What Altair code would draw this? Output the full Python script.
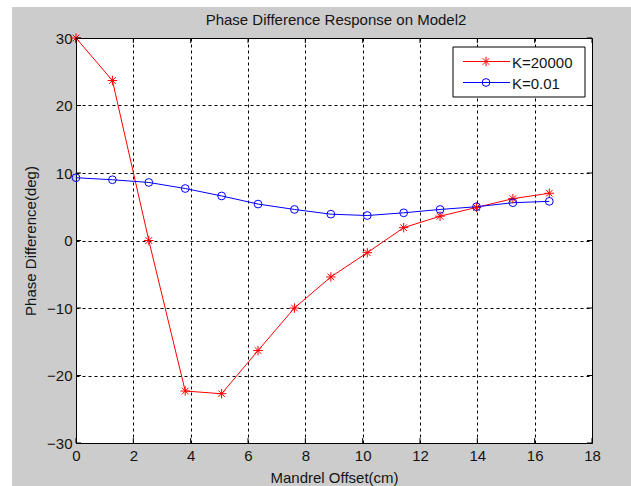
import altair as alt
import pandas as pd

# ---- data ----
x_offset = [0, 1.27, 2.54, 3.81, 5.08, 6.35, 7.62, 8.89, 10.16, 11.43, 12.7, 13.97, 15.24, 16.51]
k20000 = [30, 23.7, 0.0, -22.3, -22.7, -16.3, -10.0, -5.4, -1.8, 1.9, 3.6, 4.9, 6.2, 7.0]
k001 = [9.3, 9.0, 8.6, 7.7, 6.6, 5.4, 4.6, 3.9, 3.7, 4.1, 4.6, 5.0, 5.6, 5.8]
series_names = ["K=20000", "K=0.01"]
series_colors = ["#ff0000", "#0000ff"]
x_ticks = [0, 2, 4, 6, 8, 10, 12, 14, 16, 18]
y_ticks = [-30, -20, -10, 0, 10, 20, 30]
chart_title = "Phase Difference Response on Model2"

FONT = "Liberation Sans"
FS = 15
TXT = "#141414"
W, H = 516, 405
ASTERISK = "M-1,0L1,0M0,-1L0,1M-0.7,-0.7L0.7,0.7M-0.7,0.7L0.7,-0.7"

df = pd.DataFrame({
    "x": x_offset * 2,
    "y": k20000 + k001,
    "series": [series_names[0]] * len(x_offset) + [series_names[1]] * len(x_offset),
})
xt = pd.DataFrame({"t": x_ticks})
yt = pd.DataFrame({"t": y_ticks})

xs = alt.Scale(domain=[0, 18], nice=False, zero=False)
ys = alt.Scale(domain=[-30, 30], nice=False, zero=False)

xaxis = alt.Axis(values=x_ticks, title="Mandrel Offset(cm)", grid=True, gridColor="black",
                 gridDash=[3, 3], gridOpacity=1, gridWidth=1, ticks=False, domain=False,
                 labelFont=FONT, labelFontSize=FS, labelColor=TXT, labelPadding=5,
                 titleFont=FONT, titleFontSize=FS, titleFontWeight="normal", titleColor=TXT,
                 titlePadding=7, labelFlush=False)
yaxis = alt.Axis(values=y_ticks, title="Phase Difference(deg)", grid=True, gridColor="black",
                 gridDash=[3, 3], gridOpacity=1, gridWidth=1, ticks=False, domain=False,
                 labelFont=FONT, labelFontSize=FS, labelColor=TXT, labelPadding=4,
                 titleFont=FONT, titleFontSize=FS, titleFontWeight="normal", titleColor=TXT,
                 titlePadding=8, labelFlush=False)

color = alt.Color("series:N", scale=alt.Scale(domain=series_names, range=series_colors), legend=None)

lines = alt.Chart(df).mark_line(strokeWidth=1, clip=False).encode(
    x=alt.X("x:Q", scale=xs, axis=xaxis),
    y=alt.Y("y:Q", scale=ys, axis=yaxis),
    color=color,
)
pts_red = alt.Chart(df).transform_filter(alt.datum.series == series_names[0]).mark_point(
    shape=ASTERISK, size=90, filled=False, strokeWidth=1, color=series_colors[0], opacity=1
).encode(x=alt.X("x:Q", scale=xs), y=alt.Y("y:Q", scale=ys))
pts_blue = alt.Chart(df).transform_filter(alt.datum.series == series_names[1]).mark_point(
    shape="circle", size=60, filled=False, strokeWidth=1, color=series_colors[1], opacity=1
).encode(x=alt.X("x:Q", scale=xs), y=alt.Y("y:Q", scale=ys))

# inward tick marks on all four sides
tk_xb = alt.Chart(xt).mark_rule(color="black", strokeWidth=1).encode(
    x=alt.X("t:Q", scale=xs), y=alt.value(H), y2=alt.value(H - 5))
tk_xt = alt.Chart(xt).mark_rule(color="black", strokeWidth=1).encode(
    x=alt.X("t:Q", scale=xs), y=alt.value(0), y2=alt.value(5))
tk_yl = alt.Chart(yt).mark_rule(color="black", strokeWidth=1).encode(
    y=alt.Y("t:Q", scale=ys), x=alt.value(0), x2=alt.value(5))
tk_yr = alt.Chart(yt).mark_rule(color="black", strokeWidth=1).encode(
    y=alt.Y("t:Q", scale=ys), x=alt.value(W), x2=alt.value(W - 5))

# white strips of the screenshot at left and top edges
base = alt.Chart(pd.DataFrame({"a": [0]}))
strip_l = base.mark_rect(color="white").encode(
    x=alt.value(-76), x2=alt.value(-64), y=alt.value(-38), y2=alt.value(448))
strip_t = base.mark_rect(color="white").encode(
    x=alt.value(-76), x2=alt.value(555), y=alt.value(-38), y2=alt.value(-31))

# title
title_mark = base.mark_text(text=chart_title, align="center", baseline="alphabetic", font=FONT,
                            fontSize=FS, color=TXT).encode(x=alt.value(W / 2 + 2), y=alt.value(-13))

# legend
leg_box = base.mark_rect(fill="white", stroke="black", strokeWidth=1).encode(
    x=alt.value(377), x2=alt.value(509), y=alt.value(9), y2=alt.value(59))
leg_items = []
for i, (name, col) in enumerate(zip(series_names, series_colors)):
    yy = 23.5 + 21 * i
    leg_items.append(base.mark_rule(color=col, strokeWidth=1).encode(
        x=alt.value(387), x2=alt.value(434), y=alt.value(yy)))
    if i == 0:
        leg_items.append(base.mark_point(shape=ASTERISK, size=90, filled=False, strokeWidth=1,
                                         color=col, opacity=1).encode(x=alt.value(410), y=alt.value(yy)))
    else:
        leg_items.append(base.mark_point(shape="circle", size=60, filled=False, strokeWidth=1,
                                         color=col, opacity=1).encode(x=alt.value(410), y=alt.value(yy)))
    leg_items.append(base.mark_text(text=name, align="left", baseline="middle", font=FONT,
                                    fontSize=FS, color=TXT).encode(x=alt.value(436), y=alt.value(yy + 1)))

chart = alt.layer(
    strip_l, strip_t, title_mark, lines, pts_red, pts_blue, tk_xb, tk_xt, tk_yl, tk_yr, leg_box, *leg_items
).properties(
    width=W, height=H,
    autosize=alt.AutoSizeParams(type="none"),
    padding={"left": 76, "top": 38, "right": 39, "bottom": 43},
    background="#cccccc",
).configure_view(
    fill="white", stroke="black", strokeWidth=1
)

chart.save("out.html", embed_options={"renderer": "svg", "actions": False})
